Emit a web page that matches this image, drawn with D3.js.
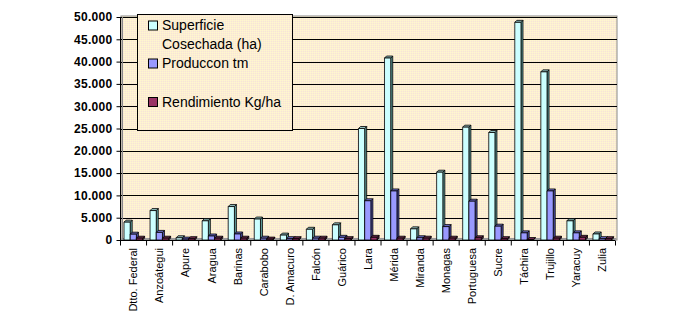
<!DOCTYPE html>
<html>
<head>
<meta charset="utf-8">
<script src="https://cdn.jsdelivr.net/npm/d3@7"></script>
<style>
  html, body { margin: 0; padding: 0; background: #fff; }
  svg { display: block; }
</style>
</head>
<body>
<svg id="chart" width="690" height="328"></svg>
<script>
// Estados y series
const estados = ["Dtto. Federal", "Anzoátegui", "Apure", "Aragua", "Barinas", "Carabobo",
  "D. Amacuro", "Falcón", "Guárico", "Lara", "Mérida", "Miranda", "Monagas",
  "Portuguesa", "Sucre", "Táchira", "Trujillo", "Yaracuy", "Zulia"];
const superficie = [4000, 6600, 500, 4300, 7500, 4700, 1100, 2400, 3400, 25000, 40800,
  2500, 15200, 25300, 24100, 48800, 37700, 4300, 1350];
const produccion = [1300, 1700, 200, 900, 1350, 400, 300, 400, 600, 8800, 11000,
  500, 3000, 8700, 3100, 1600, 11000, 1600, 300];
const rendimiento = [400, 400, 300, 400, 400, 200, 300, 400, 300, 600, 400,
  400, 400, 500, 300, 100, 400, 600, 300];
const serieNombres = ["Superficie Cosechada (ha)", "Produccon tm", "Rendimiento Kg/ha"];
const yTicks = [0, 5000, 10000, 15000, 20000, 25000, 30000, 35000, 40000, 45000, 50000];

(function () {
const series = [superficie, produccion, rendimiento];
const frente = ["#CCFFFF", "#9999FF", "#993366"];
const lado = ["#5E9C9C", "#4D4DA6", "#4A1A33"];
const techo = ["#8FBDBD", "#6E6ECC", "#6E2A4C"];

const svg = d3.select("#chart");
const mLeft = 120, mRight = 615, mTop = 17, mBottom = 240;
const dx = 2, dy = -2;

// dithered wall fill
const defs = svg.append("defs");
const pat = defs.append("pattern").attr("id", "pared")
  .attr("width", 2).attr("height", 2).attr("patternUnits", "userSpaceOnUse");
pat.append("rect").attr("width", 2).attr("height", 2).attr("fill", "#FCEFD2");
pat.append("rect").attr("x", 0).attr("y", 0).attr("width", 1).attr("height", 1).attr("fill", "#FFF6CF");
pat.append("rect").attr("x", 1).attr("y", 1).attr("width", 1).attr("height", 1).attr("fill", "#F7E3D8");

const x = d3.scaleBand().domain(estados).range([mLeft, mRight]).paddingInner(0).paddingOuter(0);
const xs = d3.scaleBand().domain([0, 1, 2]).range([4, 4 + 3 * 6.2]).padding(0);
const y = d3.scaleLinear().domain([0, 50000]).range([mBottom, mTop]);

const loc = d3.formatLocale({ decimal: ",", thousands: ".", grouping: [3], currency: ["", ""] });
const fmt = loc.format(",");

// plot wall
svg.append("rect")
  .attr("x", mLeft + 1).attr("y", mTop - 1)
  .attr("width", mRight + dx - mLeft - 1).attr("height", mBottom - mTop + 1)
  .attr("fill", "url(#pared)").attr("stroke", "#888").attr("stroke-width", 1);

// gridlines
svg.append("g").selectAll("line").data(yTicks.filter(d => d > 0)).join("line")
  .attr("x1", mLeft + 1).attr("x2", mRight + dx)
  .attr("y1", d => Math.round(y(d)) + 0.5).attr("y2", d => Math.round(y(d)) + 0.5)
  .attr("stroke", "#000").attr("stroke-width", 1);

// floor
svg.append("path")
  .attr("d", `M${mLeft},${mBottom} L${mRight},${mBottom} L${mRight + dx},${mBottom + dy} L${mLeft + dx},${mBottom + dy} Z`)
  .attr("fill", "#999");
svg.append("line").attr("x1", mLeft + 2.5).attr("x2", mLeft + 2.5).attr("y1", mTop).attr("y2", mBottom)
  .attr("stroke", "#888");

// bars
const barras = [];
estados.forEach((e, i) => {
  series.forEach((s, k) => barras.push({ e, k, v: s[i] }));
});
const w = xs.bandwidth();
const g = svg.append("g").selectAll("g").data(barras).join("g")
  .attr("stroke", "#000").attr("stroke-width", 0.8).attr("stroke-linejoin", "round");
g.each(function (d) {
  const x0 = x(d.e) + xs(d.k), x1 = x0 + w;
  const y0 = y(d.v), yb = mBottom;
  const gg = d3.select(this);
  gg.append("path")
    .attr("d", `M${x1},${yb} L${x1 + dx},${yb + dy} L${x1 + dx},${y0 + dy} L${x1},${y0} Z`)
    .attr("fill", lado[d.k]);
  gg.append("path")
    .attr("d", `M${x0},${y0} L${x0 + dx},${y0 + dy} L${x1 + dx},${y0 + dy} L${x1},${y0} Z`)
    .attr("fill", techo[d.k]);
  gg.append("rect")
    .attr("x", x0).attr("y", y0).attr("width", w).attr("height", yb - y0)
    .attr("fill", frente[d.k]);
});

// y axis
const yAxis = svg.append("g").attr("transform", `translate(${mLeft + 0.5},0)`)
  .call(d3.axisLeft(y).tickValues(yTicks).tickFormat(fmt).tickSize(4).tickPadding(4));
yAxis.select(".domain").attr("stroke", "#000").attr("d", `M0,${mTop}V${mBottom}`);
yAxis.selectAll(".tick line").attr("stroke", "#000");
yAxis.selectAll(".tick text")
  .attr("font-family", "Liberation Sans, Arial, sans-serif")
  .attr("font-size", 12).attr("font-weight", "bold").attr("fill", "#000")
  .attr("letter-spacing", "0.3px");

// x axis
const xAxis = svg.append("g").attr("transform", `translate(0,${mBottom + 0.5})`);
xAxis.append("line").attr("x1", mLeft).attr("x2", mRight).attr("stroke", "#000");
xAxis.selectAll("line.t").data(d3.range(estados.length + 1)).join("line")
  .attr("class", "t")
  .attr("x1", i => mLeft + i * x.bandwidth() + 0.5).attr("x2", i => mLeft + i * x.bandwidth() + 0.5)
  .attr("y1", 0).attr("y2", 5).attr("stroke", "#000");
xAxis.selectAll("text").data(estados).join("text")
  .attr("transform", d => `translate(${x(d) + x.bandwidth() / 2 + 0.5},7.5) rotate(-90)`)
  .attr("text-anchor", "end").attr("dy", "0.35em")
  .attr("font-family", "Liberation Sans, Arial, sans-serif")
  .attr("font-size", 11).attr("fill", "#000")
  .text(d => d);

// legend
const leg = svg.append("g");
leg.append("rect").attr("x", 137.5).attr("y", 14.5).attr("width", 155).attr("height", 116)
  .attr("fill", "url(#pared)").attr("stroke", "#000");
const legItems = [
  { k: 0, lines: ["Superficie", "Cosechada (ha)"], ym: 21 },
  { k: 1, lines: ["Produccon tm"], ym: 59 },
  { k: 2, lines: ["Rendimiento Kg/ha"], ym: 97.5 }
];
legItems.forEach(it => {
  leg.append("rect").attr("x", 148.5).attr("y", it.ym).attr("width", 9).attr("height", 9)
    .attr("fill", frente[it.k]).attr("stroke", "#000");
  const t = leg.append("text")
    .attr("font-family", "Liberation Sans, Arial, sans-serif")
    .attr("font-size", 14).attr("fill", "#000");
  it.lines.forEach((ln, j) => {
    t.append("tspan").attr("x", 162).attr("y", it.ym + 9 + j * 19).text(ln);
  });
});
})();
</script>
</body>
</html>
